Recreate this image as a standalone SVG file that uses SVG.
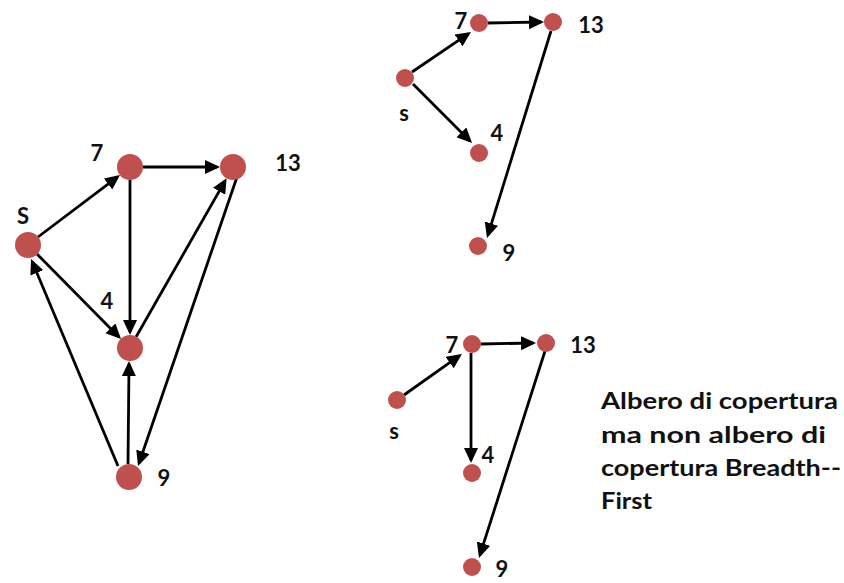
<svg xmlns="http://www.w3.org/2000/svg" width="844" height="583" viewBox="0 0 844 583">
<defs>
<style>
.n{fill:#C0504D;}
.e{stroke:#000;stroke-width:2.8;fill:none;marker-end:url(#ah);}
.l{font-family:Lato,"Open Sans","Liberation Sans",sans-serif;font-weight:bold;font-size:22px;fill:#111;text-anchor:middle;}
.t{font-family:Lato,"Open Sans","Liberation Sans",sans-serif;font-weight:bold;font-size:22px;fill:#111;}
</style>
<marker id="ah" markerUnits="userSpaceOnUse" markerWidth="18" markerHeight="16" refX="12" refY="7" orient="auto"><path d="M0,0 L15,7 L0,14 z" fill="#000"/></marker>
</defs>
<rect width="844" height="583" fill="#fff"/>
<g id="connectors">
<line class="e" x1="38" y1="237" x2="117.6" y2="176.8"/>
<line class="e" x1="143" y1="167" x2="217" y2="167"/>
<line class="e" x1="130" y1="180" x2="130" y2="332"/>
<line class="e" x1="37" y1="254" x2="118.9" y2="336.9"/>
<line class="e" x1="136" y1="337" x2="225.1" y2="180.9"/>
<line class="e" x1="237" y1="177" x2="139" y2="463.2"/>
<line class="e" x1="128" y1="464" x2="129" y2="364"/>
<line class="e" x1="118" y1="466" x2="32.2" y2="261.8"/>
<line class="e" x1="412" y1="72" x2="468.5" y2="33.7"/>
<line class="e" x1="488" y1="23" x2="541" y2="22"/>
<line class="e" x1="413" y1="84" x2="469.9" y2="140.9"/>
<line class="e" x1="551" y1="31" x2="487.9" y2="235.1"/>
<line class="e" x1="404" y1="395" x2="459.5" y2="355.7"/>
<line class="e" x1="481" y1="344" x2="533" y2="343"/>
<line class="e" x1="471" y1="353" x2="471" y2="460"/>
<line class="e" x1="545" y1="351" x2="479.9" y2="555.1"/>
</g>
<g id="g1-s"><circle class="n" cx="28" cy="245" r="13"/><text class="l" x="23" y="224">S</text></g>
<g id="g1-7"><circle class="n" cx="130" cy="167" r="13"/><text class="l" x="97" y="161">7</text></g>
<g id="g1-13"><circle class="n" cx="233" cy="167" r="13"/><text class="l" x="288" y="171">13</text></g>
<g id="g1-4"><circle class="n" cx="130" cy="348" r="13"/><text class="l" x="107" y="309">4</text></g>
<g id="g1-9"><circle class="n" cx="129" cy="477" r="13"/><text class="l" x="164" y="486">9</text></g>
<g id="g2-s"><circle class="n" cx="405" cy="78" r="9"/><text class="l" x="404" y="121">s</text></g>
<g id="g2-7"><circle class="n" cx="479" cy="23" r="9"/><text class="l" x="461" y="29">7</text></g>
<g id="g2-13"><circle class="n" cx="553" cy="22" r="9"/><text class="l" x="591" y="33">13</text></g>
<g id="g2-4"><circle class="n" cx="479" cy="153" r="9"/><text class="l" x="497" y="141">4</text></g>
<g id="g2-9"><circle class="n" cx="478" cy="246" r="9"/><text class="l" x="509" y="261">9</text></g>
<g id="g3-s"><circle class="n" cx="397" cy="400" r="9"/><text class="l" x="394" y="439">s</text></g>
<g id="g3-7"><circle class="n" cx="472" cy="344" r="9"/><text class="l" x="452" y="353">7</text></g>
<g id="g3-13"><circle class="n" cx="546" cy="343" r="9"/><text class="l" x="583" y="353">13</text></g>
<g id="g3-4"><circle class="n" cx="472" cy="473" r="9"/><text class="l" x="488" y="463">4</text></g>
<g id="g3-9"><circle class="n" cx="472" cy="567" r="9"/><text class="l" x="502" y="577">9</text></g>
<g id="caption">
<text class="t" x="601" y="409" textLength="237" lengthAdjust="spacingAndGlyphs">Albero di copertura</text>
<text class="t" x="601" y="443" textLength="225" lengthAdjust="spacingAndGlyphs">ma non albero di</text>
<text class="t" x="601" y="476" textLength="240" lengthAdjust="spacingAndGlyphs">copertura Breadth--</text>
<text class="t" x="601" y="509" textLength="51" lengthAdjust="spacingAndGlyphs">First</text>
</g>
</svg>
